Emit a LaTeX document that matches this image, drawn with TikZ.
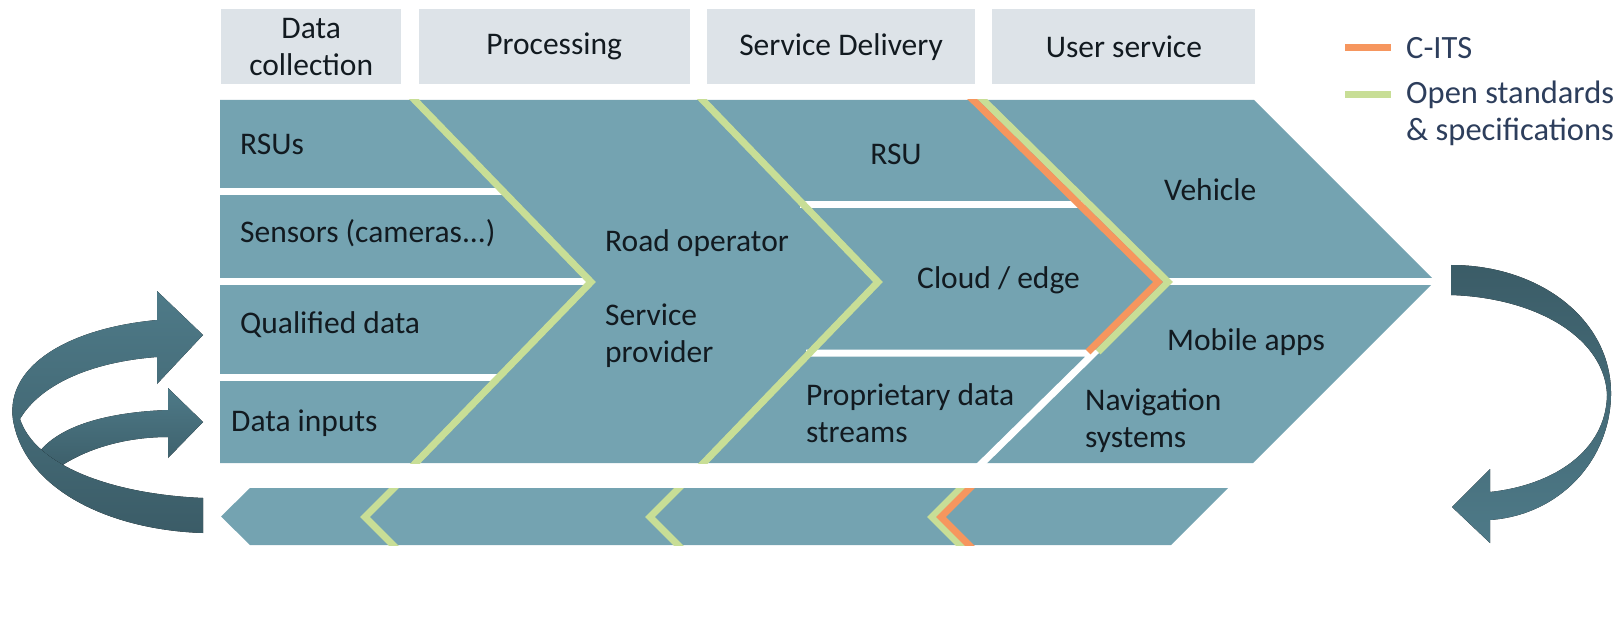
\documentclass[tikz,border=0pt]{standalone}
\usepackage{fontspec}
\setmainfont{Carlito}
\usetikzlibrary{positioning}

\definecolor{bandblue}{RGB}{116,163,177}
\definecolor{headgrey}{RGB}{221,227,232}
\definecolor{stdgreen}{RGB}{200,222,150}
\definecolor{citsorange}{RGB}{246,150,94}
\definecolor{arrowdark}{RGB}{59,92,103}
\definecolor{arrowlight}{RGB}{78,122,136}
\definecolor{txtdark}{RGB}{18,26,32}
\definecolor{legblue}{RGB}{45,62,92}

\tikzset{
  head/.style={rectangle, fill=headgrey, minimum height=75pt, inner sep=0pt, align=center, text=txtdark},
  lbl/.style={inner sep=0pt, anchor=west, align=left, text=txtdark},
  sepline/.style={white, line width=7pt},
  stdline/.style={stdgreen, line width=7pt},
  citsline/.style={citsorange, line width=7pt},
  ribbon/.style={top color=arrowlight, bottom color=arrowdark, draw=none}
}

\begin{document}
\begin{tikzpicture}[x=1pt, y=-1pt, every node/.style={font=\fontsize{31.5}{37}\selectfont}]
				\useasboundingbox (0,0) rectangle (1616,620);

				% phase headers
				\node[head, minimum width=180pt, anchor=north west] (hdc) at (221,9) {Data\\collection};
				\node[head, minimum width=271pt, right=17pt of hdc] (hproc) {Processing};
				\node[head, minimum width=268pt, right=17pt of hproc] (hsd) {Service Delivery};
				\node[head, minimum width=263pt, right=17pt of hsd] (hus) {User service};

				% main band and return strip
				\fill[bandblue] (220,100) -- (1254,100) -- (1435,281) -- (1253,463) -- (220,463) -- cycle;
				\fill[bandblue] (250,488) -- (1228,488) -- (1171,545) -- (250,545) -- (221,516.5) -- cycle;

				% white separators
				\draw[sepline] (220,192) -- (503,192);
				\draw[sepline] (220,281) -- (590,281);
				\draw[sepline] (220,377) -- (499,377);
				\draw[sepline] (800,205) -- (1085,205);
				\draw[sepline] (806,353) -- (1094,353) -- (975,470);
				\draw[sepline] (1165,281) -- (1435,281);

				\begin{scope}
				\clip (200,100) rectangle (1450,463);
				\draw[stdline] (405,90) -- (591,282) -- (405,474);
				\draw[stdline] (693,90) -- (878,282) -- (693,474);
				\draw[stdline] (973,90) -- (1168,282) -- (1098,352);
				\draw[citsline] (963,90) -- (1158,282) -- (1088,352);
				\end{scope}
				\begin{scope}
				\clip (200,488) rectangle (1450,545);
				\draw[stdline] (400,482) -- (365,517) -- (400,552);
				\draw[stdline] (685,482) -- (650,517) -- (685,552);
				\draw[stdline] (967,482) -- (932,517) -- (967,552);
				\draw[citsline] (976,482) -- (941,517) -- (976,552);
				\end{scope}

				% labels
				\node[lbl] (rsus) at (240,144) {RSUs};
				\node[lbl] (sens) at (240,233) {Sensors (cameras...)};
				\node[lbl] (qual) at (240,325) {Qualified data};
				\node[lbl] (inp) at (231,423) {Data inputs};
				\node[lbl] (road) at (605,243) {Road operator};
				\node[lbl] (prov) at (605,336) {Service\\provider};
				\node[lbl, anchor=center] (rsu) at (896,154) {RSU};
				\node[lbl] (cloud) at (917,280) {Cloud / edge};
				\node[lbl] (prop) at (806,413) {Proprietary data\\streams};
				\node[lbl] (veh) at (1164,190) {Vehicle};
				\node[lbl] (mob) at (1167,342) {Mobile apps};
				\node[lbl] (nav) at (1085,421) {Navigation\\systems};

				% legend
				\node[lbl, text=legblue, font=\fontsize{32.5}{37}\selectfont] (lcits) at (1406,48) {C-ITS};
				\node[lbl, text=legblue, font=\fontsize{32.5}{37}\selectfont] (lstd) at (1406,113) {Open standards\\\& specifications};
				\draw[citsline] (1345,48) -- (1391,48);
				\draw[stdline] (1345,95) -- (1391,95);

				% loop arrows
				\fill[ribbon] (203,422) -- (168,388) -- (168,410) .. controls (110,412) and (55,425) .. (35,458)
				  -- (48,476) .. controls (75,452) and (120,437) .. (168,437) -- (168,458) -- cycle;
				\fill[ribbon] (203,335) -- (157,291) -- (157,320) .. controls (70,328) and (5,365) .. (13,420)
				  .. controls (25,490) and (110,530) .. (203,533) -- (203,498)
				  .. controls (110,494) and (35,465) .. (20,419) .. controls (40,385) and (90,362) .. (157,357)
				  -- (157,384) -- cycle;
				\fill[ribbon, top color=arrowdark, bottom color=arrowlight] (1451,265) .. controls (1540,265) and (1612,320) .. (1611,395)
				  .. controls (1610,460) and (1560,515) .. (1490,520) -- (1490,543) -- (1452,507) -- (1490,469)
				  -- (1490,492) .. controls (1555,485) and (1606,450) .. (1607,395)
				  .. controls (1605,340) and (1540,298) .. (1451,295) -- cycle;
\end{tikzpicture}
\end{document}
